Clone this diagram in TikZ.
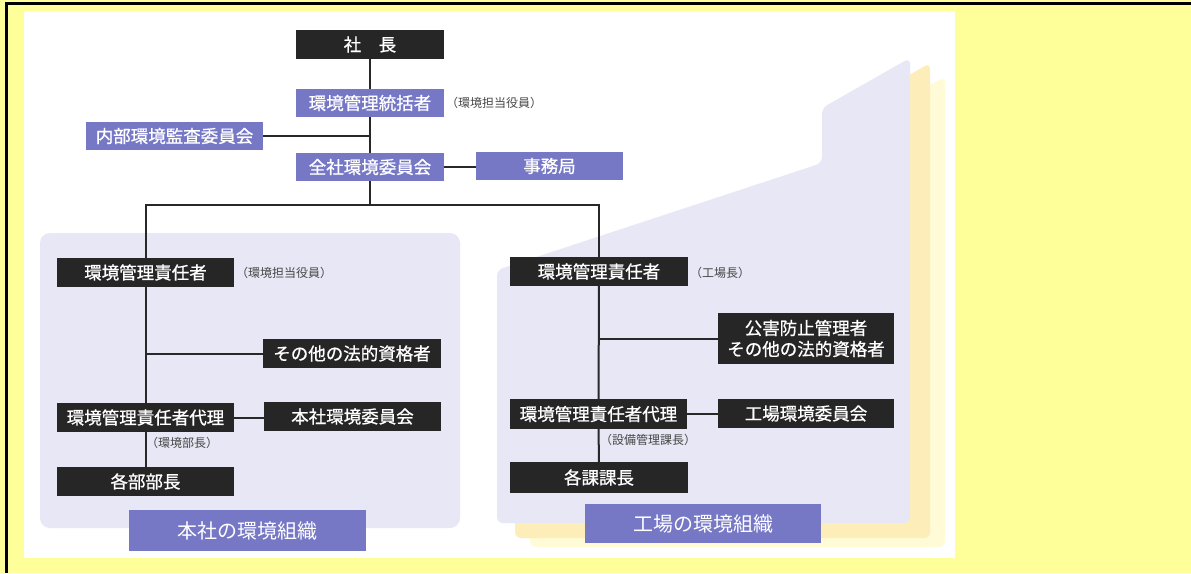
\documentclass[tikz,border=0pt]{standalone}
\usepackage{fontspec}
\newfontfamily\jp{Noto Sans CJK JP}
\newfontfamily\jpb{Noto Sans CJK JP}[FakeBold=0.8]
\definecolor{bgyellow}{RGB}{255,255,153}
\definecolor{boxblack}{RGB}{38,38,38}
\definecolor{boxblue}{RGB}{118,120,198}
\definecolor{panel}{RGB}{231,231,245}
\definecolor{layerA}{RGB}{253,238,185}
\definecolor{layerB}{RGB}{255,251,215}
\definecolor{linec}{RGB}{40,40,40}
\definecolor{notec}{RGB}{70,70,70}
\tikzset{
  orgbox/.style={inner sep=0pt, text=white, align=center,
    font=\jpb\fontsize{17.5}{21}\selectfont},
  blk/.style={orgbox, fill=boxblack},
  blu/.style={orgbox, fill=boxblue},
  ttl/.style={orgbox, fill=boxblue, font=\jp\fontsize{20}{24}\selectfont},
  note/.style={inner sep=0pt, text=notec, font=\jp\fontsize{12}{14}\selectfont},
  conn/.style={draw=linec, line width=2pt}
}
\begin{document}
\begin{tikzpicture}[x=1pt,y=-1pt]
\useasboundingbox (0,0) rectangle (1191,573);
% page background
\fill[bgyellow] (0,0) rectangle (1191,573);
\fill[black] (5,2) rectangle (1191,5);
\fill[black] (5,2) rectangle (8,573);
\fill[white] (24,11) rectangle (955,558);
% panels
\fill[panel, rounded corners=10pt] (40,233) rectangle (460,528);
\fill[layerB, rounded corners=6pt] (530,547) -- (530,300) -- (855,185) -- (855,125) -- (945,77) -- (945,547) -- cycle;
\fill[layerA, rounded corners=6pt] (515,538) -- (515,290) -- (840,175) -- (840,115) -- (930,63) -- (930,538) -- cycle;
\fill[panel, rounded corners=6pt] (497,523) -- (497,270) -- (822,163) -- (822,108) -- (910,58) -- (910,523) -- cycle;

% top nodes
\node[blk, minimum width=148pt, minimum height=29pt] (ceo) at (370,44.5) {社　長};
\node[blu, minimum width=148pt, minimum height=28pt] (tokatsu) at (370,103) {環境管理統括者};
\node[note, anchor=west] (ntokatsu) at (446,103) {（環境担当役員）};
\node[blu, minimum width=177pt, minimum height=28pt] (naibu) at (174.5,136) {内部環境監査委員会};
\node[blu, minimum width=148pt, minimum height=28pt] (zensha) at (370,167) {全社環境委員会};
\node[blu, minimum width=147pt, minimum height=28pt] (jimu) at (549.5,166) {事務局};
\coordinate (br) at (370,205);

% left (head office)
\node[blk, minimum width=177pt, minimum height=29pt] (L1) at (145.5,272.5) {環境管理責任者};
\node[note, anchor=west] (nL1) at (236,273) {（環境担当役員）};
\node[blk, minimum width=178pt, minimum height=29pt] (L2) at (352,353.5) {その他の法的資格者};
\node[blk, minimum width=177pt, minimum height=29pt] (L3) at (145.5,417.5) {環境管理責任者代理};
\node[blk, minimum width=177pt, minimum height=29pt] (L4) at (352.5,416.5) {本社環境委員会};
\node[note] (nL3) at (182,443) {（環境部長）};
\node[blk, minimum width=177pt, minimum height=29pt] (L5) at (145.5,481.5) {各部部長};
\node[ttl, minimum width=237pt, minimum height=41pt] (Lt) at (247.5,530.5) {本社の環境組織};

% right (factory)
\node[blk, minimum width=178pt, minimum height=29pt] (R1) at (599,271.5) {環境管理責任者};
\node[note, anchor=west] (nR1) at (690,273) {（工場長）};
\node[blk, minimum width=176pt, minimum height=51pt] (R2) at (806,338.5) {公害防止管理者\\その他の法的資格者};
\node[blk, minimum width=177pt, minimum height=30pt] (R3) at (598.5,414) {環境管理責任者代理};
\node[blk, minimum width=176pt, minimum height=29pt] (R4) at (806,413.5) {工場環境委員会};
\node[note] (nR3) at (648,440) {（設備管理課長）};
\node[blk, minimum width=178pt, minimum height=31pt] (R5) at (599,477.5) {各課課長};
\node[ttl, minimum width=236pt, minimum height=39pt] (Rt) at (703,523.5) {工場の環境組織};

% connectors
\draw[conn] (ceo) -- (tokatsu);
\draw[conn] (tokatsu) -- (zensha);
\draw[conn] (naibu.east) -- (naibu.east -| tokatsu.south);
\draw[conn] (zensha.east) -- (zensha.east -| jimu.west);
\draw[conn] (zensha.south) -- (br);
\draw[conn] (L1.north) |- (br) -| (R1.north);
\draw[conn] (L1) -- (L3);
\draw[conn] (L3) -- (L5);
\draw[conn] (L2.west) -- (L2.west -| L1.south);
\draw[conn] (L3.east) -- (L3.east -| L4.west);
\draw[conn] (R1) -- (R3);
\draw[conn] (R3) -- (R5);
\draw[conn] (R2.west) -- (R2.west -| R1.south);
\draw[conn] (R3.east) -- (R3.east -| R4.west);
\end{tikzpicture}
\end{document}
